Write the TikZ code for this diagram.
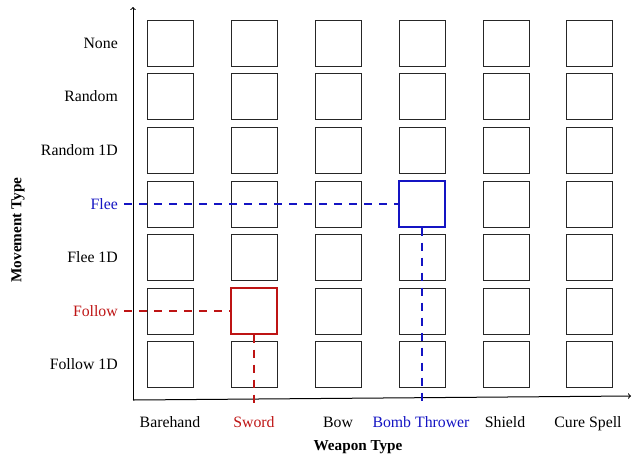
\documentclass[tikz,border=0pt]{standalone}
\usepackage{fontspec}
\setmainfont{Liberation Serif}
\definecolor{hlblue}{RGB}{20,20,195}
\definecolor{hlred}{RGB}{190,20,20}
\begin{document}
\begin{tikzpicture}[x=1pt,y=-1pt,
  cell/.style={draw=black!85,line width=1pt,minimum size=46pt,inner sep=0pt},
  hlcell/.style={cell,line width=2pt},
  rowlab/.style={anchor=base east,inner sep=0pt,font=\fontsize{15.8}{18}\selectfont},
  collab/.style={anchor=base,inner sep=0pt,font=\fontsize{15.8}{18}\selectfont},
  axlab/.style={font=\fontsize{15.2}{18}\selectfont\bfseries,inner sep=0pt},
  axisline/.style={line width=1pt,-to},
  hldash/.style={line width=2pt,dash pattern=on 8pt off 7pt}]
\useasboundingbox (0,0) rectangle (634,456);
% axes
\coordinate (o) at (133,400);
\coordinate (ytip) at (133,7);
\coordinate (xtip) at (631,396);
\draw[axisline] (o) -- (ytip);
\draw[axisline] (o) -- (xtip);
% grid
\foreach \r/\y in {1/43,2/96,3/150,4/204,5/257,6/311,7/364}{
  \foreach \c/\x in {1/170,2/254,3/338,4/422,5/506,6/589}{
    \node[cell] (b-\r-\c) at (\x,\y) {};
  }
}
\node[hlcell,draw=hlblue] at (b-4-4) {};
\node[hlcell,draw=hlred] at (b-6-2) {};
% row labels
\node[rowlab] (r1) at (118,48.5) {None};
\node[rowlab] (r2) at (118,101.5) {Random};
\node[rowlab] (r3) at (118,155.5) {Random 1D};
\node[rowlab,text=hlblue] (r4) at (118,209.5) {Flee};
\node[rowlab] (r5) at (118,262.5) {Flee 1D};
\node[rowlab,text=hlred] (r6) at (118,316.5) {Follow};
\node[rowlab] (r7) at (118,369.5) {Follow 1D};
% column labels
\node[collab] (c1) at (170,427) {Barehand};
\node[collab,text=hlred] (c2) at (254,427) {Sword};
\node[collab] (c3) at (338,427) {Bow};
\node[collab,text=hlblue] (c4) at (421,427) {Bomb Thrower};
\node[collab] (c5) at (505,427) {Shield};
\node[collab] (c6) at (588,427) {Cure Spell};
% axis titles
\node[axlab] (xt) at (358,447) {Weapon Type};
\node[axlab,rotate=90] (yt) at (18,230) {Movement Type};
% highlight dashes
\coordinate (bend) at (422,407);
\coordinate (rend) at (254,409);
\draw[hldash,hlblue] ([xshift=6pt]r4.east |- b-4-4.west) -- (b-4-4.west);
\draw[hldash,hlblue] (b-4-4.south) -- (bend);
\draw[hldash,hlred] ([xshift=6pt]r6.east |- b-6-2.west) -- (b-6-2.west);
\draw[hldash,hlred] (b-6-2.south) -- (rend);
\end{tikzpicture}
\end{document}
